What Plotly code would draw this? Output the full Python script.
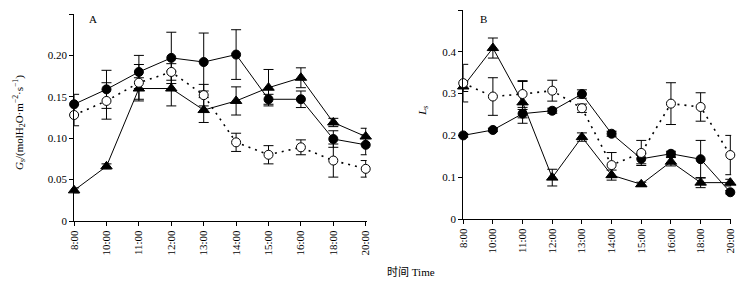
import plotly.graph_objects as go

categories = ["8:00", "10:00", "11:00", "12:00", "13:00", "14:00", "15:00", "16:00", "18:00", "20:00"]

# Panel A: Gs
gs_circle = [0.141, 0.159, 0.180, 0.197, 0.192, 0.201, 0.147, 0.147, 0.099, 0.092]
gs_circle_err = [0.012, 0.023, 0.020, 0.031, 0.035, 0.030, 0.006, 0.010, 0.010, 0.012]
gs_triangle = [0.037, 0.066, 0.160, 0.160, 0.134, 0.145, 0.161, 0.173, 0.119, 0.102]
gs_triangle_err = [0.003, 0.003, 0.013, 0.021, 0.015, 0.017, 0.022, 0.012, 0.005, 0.010]
gs_open = [0.128, 0.145, 0.167, 0.180, 0.152, 0.095, 0.080, 0.089, 0.073, 0.063]
gs_open_err = [0.013, 0.022, 0.022, 0.010, 0.013, 0.011, 0.011, 0.009, 0.020, 0.010]

# Panel B: Ls
ls_circle = [0.200, 0.213, 0.252, 0.259, 0.299, 0.204, 0.144, 0.156, 0.143, 0.064]
ls_circle_err = [0.004, 0.004, 0.010, 0.006, 0.010, 0.006, 0.012, 0.006, 0.045, 0.004]
ls_triangle = [0.317, 0.409, 0.279, 0.099, 0.196, 0.105, 0.083, 0.137, 0.087, 0.087]
ls_triangle_err = [0.012, 0.024, 0.050, 0.020, 0.010, 0.012, 0.005, 0.010, 0.012, 0.008]
ls_open = [0.325, 0.293, 0.299, 0.307, 0.265, 0.129, 0.158, 0.276, 0.268, 0.153]
ls_open_err = [0.045, 0.045, 0.032, 0.025, 0.010, 0.030, 0.030, 0.050, 0.034, 0.047]

gs_ticks = [0, 0.05, 0.10, 0.15, 0.20, 0.25]
gs_ticktext = ["0", "0.05", "0.10", "0.15", "0.20", "0.25"]
ls_ticks = [0, 0.1, 0.2, 0.3, 0.4, 0.5]
ls_ticktext = ["0", "0.1", "0.2", "0.3", "0.4", "0.5"]

FONT = "Liberation Serif, Noto Sans CJK SC, serif"
# page body has an 8px default margin; the figure is sized so that it fits the window
OX, OY = 8, 8
W, H = 741, 278
PLOT_TOP, PLOT_BOTTOM = 10, 221   # in window pixels
T = PLOT_TOP - OY
B = (H + OY) - PLOT_BOTTOM
PH = H - T - B


def fx(xpix):
    return (xpix - OX) / W


def fy(ypix):
    return (PLOT_BOTTOM - ypix) / PH


fig = go.Figure()


def add_series(y, err, xa, ya, symbol, fill, dash):
    fig.add_trace(go.Scatter(
        x=categories, y=y, xaxis=xa, yaxis=ya, mode="lines+markers",
        line=dict(color="black", width=1.6 if dash != "solid" else 1, dash=dash),
        marker=dict(symbol=symbol, size=9 if "circle" in symbol else 10, color=fill,
                    line=dict(color="black", width=1)),
        error_y=dict(type="data", array=err, visible=True, color="black",
                     thickness=1, width=5),
        cliponaxis=False, showlegend=False,
    ))


add_series(gs_triangle, gs_triangle_err, "x", "y", "triangle-up", "black", "solid")
add_series(gs_circle, gs_circle_err, "x", "y", "circle", "black", "solid")
add_series(gs_open, gs_open_err, "x", "y", "circle", "white", "2px,5px")

add_series(ls_triangle, ls_triangle_err, "x2", "y2", "triangle-up", "black", "solid")
add_series(ls_circle, ls_circle_err, "x2", "y2", "circle", "black", "solid")
add_series(ls_open, ls_open_err, "x2", "y2", "circle", "white", "2px,5px")

xcommon = dict(type="category", range=[0, 9.03], showline=True, linecolor="black",
               linewidth=1, ticks="outside", ticklen=4, tickcolor="black",
               tickangle=-90, showgrid=False, zeroline=False,
               tickfont=dict(family=FONT, size=11, color="black"))
ycommon = dict(showline=True, linecolor="black", linewidth=1, ticks="outside",
               ticklen=4, tickcolor="black", showgrid=False, zeroline=False,
               tickfont=dict(family=FONT, size=11, color="black"))

fig.update_layout(
    width=W, height=H,
    margin=dict(l=0, r=0, t=T, b=B),
    paper_bgcolor="white", plot_bgcolor="white",
    font=dict(family=FONT, color="black"),
    xaxis=dict(domain=[fx(69), fx(366)], anchor="y", **xcommon),
    yaxis=dict(domain=[0, fy(14)], anchor="x", range=[0, 0.25],
               tickvals=gs_ticks, ticktext=gs_ticktext, **ycommon),
    xaxis2=dict(domain=[fx(464), fx(736)], anchor="y2", **xcommon),
    yaxis2=dict(domain=[fy(219), 1], anchor="x2", range=[0, 0.5],
                tickvals=ls_ticks, ticktext=ls_ticktext, **ycommon),
)

annots = [
    dict(text="A", x=fx(88), y=fy(19)),
    dict(text="B", x=fx(485), y=fy(19)),
    dict(text="<i>G</i><sub>s</sub>/(molH<sub>2</sub>O·m<sup>−2</sup>·s<sup>−1</sup>)",
         x=fx(13), y=fy(122), textangle=-90),
    dict(text="<i>L</i><sub>s</sub>", x=fx(423), y=fy(111), textangle=-90),
    dict(text="时间 Time", x=fx(411), y=fy(272)),
]
for a in annots:
    fig.add_annotation(xref="paper", yref="paper", showarrow=False,
                       xanchor="center", yanchor="middle",
                       font=dict(family=FONT, size=11, color="black"), **a)

fig.write_html("out.html")
